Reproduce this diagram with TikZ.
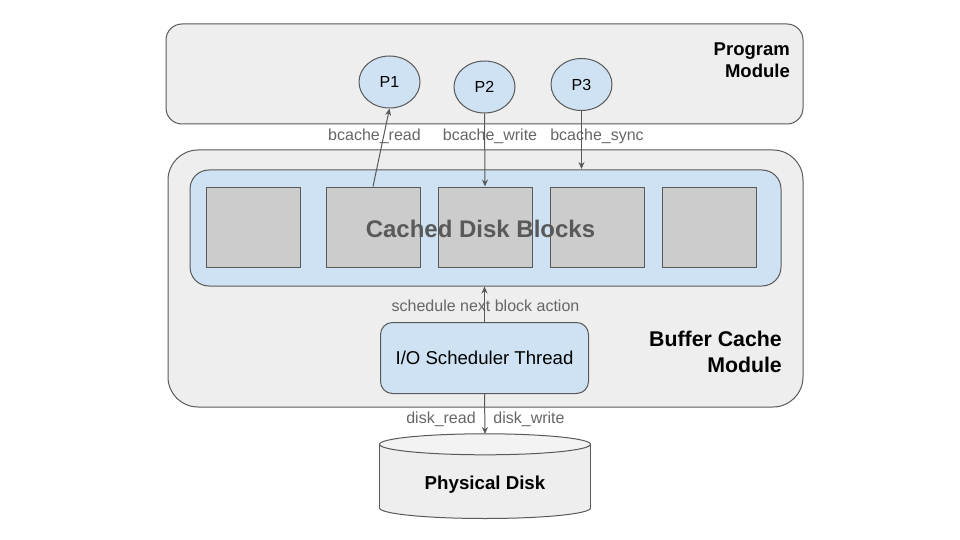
\documentclass[tikz,border=0pt]{standalone}
\usepackage{fontspec}
\usepackage{xcolor}
\setmainfont{Liberation Sans}
\usetikzlibrary{shapes.geometric,arrows.meta}
\definecolor{edgegray}{HTML}{595959}
\definecolor{labelgray}{HTML}{666666}
\definecolor{panelgray}{HTML}{EEEEEE}
\definecolor{blockgray}{HTML}{CCCCCC}
\definecolor{paleblue}{HTML}{CFE2F3}
\definecolor{disktop}{HTML}{F3F3F3}
\tikzset{
  panel/.style={draw=edgegray,line width=1pt,fill=panelgray,inner sep=0pt},
  blockbox/.style={draw=edgegray,line width=1pt,fill=blockgray,minimum width=94pt,minimum height=80pt,inner sep=0pt},
  proc/.style={draw=edgegray,line width=1pt,fill=paleblue,ellipse,minimum width=61pt,minimum height=52pt,inner sep=0pt,font=\fontsize{16pt}{18pt}\selectfont},
  link/.style={draw=edgegray,line width=1pt,-{Stealth[length=7pt,width=6pt]}},
  tag/.style={text=labelgray,inner sep=0pt,font=\fontsize{16pt}{18pt}\selectfont},
  title/.style={align=right,inner sep=0pt,font=\bfseries\fontsize{18.5pt}{22pt}\selectfont},
  diskend/.style={draw=edgegray,line width=1pt,x radius=105.5pt,y radius=10.5pt}
}
\begin{document}
\begin{tikzpicture}[x=1pt,y=-1pt]
  \useasboundingbox (0,0) rectangle (960,540);

  % Program module
  \node[panel,rounded corners=16pt,minimum width=637pt,minimum height=100pt] (program) at (484.5,74) {};
  \node[title,anchor=east] (programtitle) at (790,60.5) {Program\\Module};
  \node[proc] (p1) at (389.5,82) {P1};
  \node[proc] (p2) at (484.5,87) {P2};
  \node[proc] (p3) at (581.5,84.5) {P3};

  % Buffer cache module
  \node[panel,rounded corners=30pt,minimum width=635pt,minimum height=257pt] (buffer) at (485.5,278.5) {};
  \node[title,anchor=east,font=\bfseries\fontsize{21.3pt}{26pt}\selectfont] (buffertitle) at (782,352) {Buffer Cache\\Module};
  \node[draw=edgegray,line width=1pt,fill=paleblue,rounded corners=19pt,minimum width=591pt,minimum height=116pt,inner sep=0pt] (cache) at (485.5,228) {};

  % Blocks
  \foreach \name/\xpos in {b1/253,b2/373,b3/485,b4/597,b5/709}
    \node[blockbox] (\name) at (\xpos,227) {};
  \node[text=edgegray,inner sep=0pt,font=\bfseries\fontsize{24pt}{28pt}\selectfont] (cachetitle) at (480.5,229) {Cached Disk Blocks};

  % Scheduler and disk
  \node[draw=edgegray,line width=1pt,fill=paleblue,rounded corners=12pt,minimum width=208pt,minimum height=71pt,inner sep=0pt,font=\fontsize{18.6pt}{22pt}\selectfont] (sched) at (484.5,358) {I/O Scheduler Thread};
  \coordinate (diskbase) at (485,508);
  \draw[diskend,fill=panelgray] (diskbase) ellipse [];
  \node[fill=panelgray,minimum width=211pt,minimum height=63.5pt,inner sep=0pt] (disk) at (485,476.25) {};
  \draw[edgegray,line width=1pt] (disk.north west) -- (disk.south west) (disk.north east) -- (disk.south east);
  \draw[diskend,fill=disktop] (disk.north) ellipse [];
  \coordinate (diskrim) at (485,434);
  \node[inner sep=0pt,font=\bfseries\fontsize{18.7pt}{22pt}\selectfont] (disktitle) at (485,485) {Physical Disk};

  % Labels
  \node[tag] (readtag) at (374.5,136.5) {bcache\_read};
  \node[tag] (writetag) at (490,136.5) {bcache\_write};
  \node[tag] (synctag) at (597,136.5) {bcache\_sync};
  \node[tag] (nexttag) at (485.5,306) {schedule next block action};
  \node[tag] (diskreadtag) at (441,419) {disk\_read};
  \node[tag] (diskwritetag) at (529,419) {disk\_write};

  % Connectors
  \coordinate (syncend) at (581.5,169);
  \draw[link] (b2.north) -- (p1.south);
  \draw[link] (p2.south) -- (b3.north);
  \draw[link] (p3.south) -- (syncend);
  \draw[link] (sched.north) -- (cache.south -| sched.north);
  \draw[link] (sched.south) -- (diskrim);
\end{tikzpicture}
\end{document}
